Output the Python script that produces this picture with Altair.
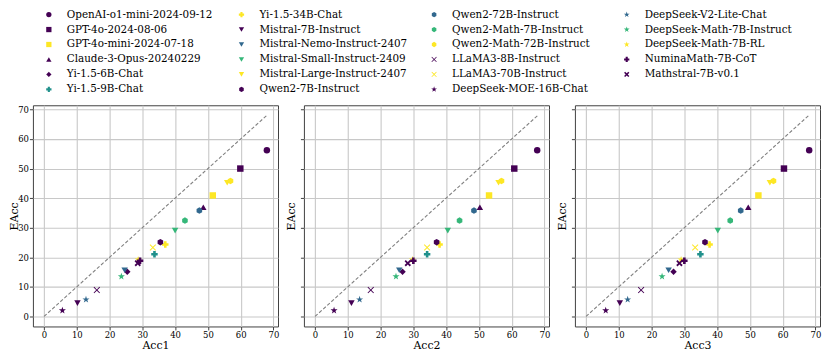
import altair as alt
import pandas as pd

models = [
    "OpenAI-o1-mini-2024-09-12", "GPT-4o-2024-08-06", "GPT-4o-mini-2024-07-18",
    "Claude-3-Opus-20240229", "Yi-1.5-6B-Chat", "Yi-1.5-9B-Chat",
    "Yi-1.5-34B-Chat", "Mistral-7B-Instruct", "Mistral-Nemo-Instruct-2407",
    "Mistral-Small-Instruct-2409", "Mistral-Large-Instruct-2407", "Qwen2-7B-Instruct",
    "Qwen2-72B-Instruct", "Qwen2-Math-7B-Instruct", "Qwen2-Math-72B-Instruct",
    "LLaMA3-8B-Instruct", "LLaMA3-70B-Instruct", "DeepSeek-MOE-16B-Chat",
    "DeepSeek-V2-Lite-Chat", "DeepSeek-Math-7B-Instruct", "DeepSeek-Math-7B-RL",
    "NuminaMath-7B-CoT", "Mathstral-7B-v0.1",
]
eacc = [56.2, 50.0, 40.9, 36.9, 15.1, 21.0, 24.3, 4.5, 15.6, 29.0, 45.2, 25.1,
        35.8, 32.4, 45.8, 8.9, 23.3, 2.0, 5.7, 13.5, 19.2, 18.8, 18.0]
acc1 = [68.0, 59.9, 51.5, 48.6, 25.4, 33.7, 37.0, 10.2, 24.6, 40.0, 55.9, 35.5,
        47.4, 43.0, 56.9, 16.1, 33.2, 5.6, 12.8, 23.6, 28.7, 29.3, 28.6]
acc2 = [67.8, 60.8, 53.1, 50.3, 26.7, 34.2, 38.0, 11.1, 25.7, 40.5, 56.0, 37.1,
        48.5, 44.1, 56.9, 17.0, 34.2, 5.8, 13.6, 24.7, 29.7, 30.0, 28.3]
acc3 = [68.1, 60.4, 52.6, 49.5, 26.7, 34.9, 37.7, 10.3, 25.2, 40.2, 56.1, 36.3,
        47.2, 44.0, 57.2, 16.8, 33.3, 6.0, 12.7, 23.2, 29.0, 30.0, 28.5]

P, B, T, G, Y = "#440154", "#31688e", "#21918c", "#35b779", "#fde725"
marker_colors = [P, P, Y, P, P, T, Y, P, B, G, Y, P, B, G, Y, P, Y, P, B, G, Y, P, P]

HEX = "M0,-1L0.866,-0.5L0.866,0.5L0,1L-0.866,0.5L-0.866,-0.5Z"
THIN_X = "M-1,-0.8L-0.8,-1L0,-0.2L0.8,-1L1,-0.8L0.2,0L1,0.8L0.8,1L0,0.2L-0.8,1L-1,0.8L-0.2,0Z"
THICK_X = "M-1,-0.6L-0.6,-1L0,-0.4L0.6,-1L1,-0.6L0.4,0L1,0.6L0.6,1L0,0.4L-0.6,1L-1,0.6L-0.4,0Z"
STAR = ("M0,-1.15L0.26,-0.36L1.09,-0.36L0.42,0.14L0.68,0.93L0,0.44"
        "L-0.68,0.93L-0.42,0.14L-1.09,-0.36L-0.26,-0.36Z")
marker_shapes = [
    "circle", "square", "square", "triangle-up", "diamond", "cross", "cross",
    "triangle-down", "triangle-down", "triangle-down", "triangle-down", HEX,
    HEX, HEX, HEX, THIN_X, THIN_X, STAR, STAR, STAR, STAR, "cross", THICK_X,
]

diag_vals = [0, 68]
tick_vals = [0, 10, 20, 30, 40, 50, 60, 70]
axis_domain = [-3.4, 71.4]

N_ROWS = 6  # legend is filled column by column, 6 entries per column

df = pd.DataFrame({"model": models, "Acc1": acc1, "Acc2": acc2, "Acc3": acc3, "EAcc": eacc})
df["lcol"] = [i // N_ROWS for i in range(len(models))]
df["lrow"] = [i % N_ROWS for i in range(len(models))]
diag_df = pd.DataFrame({"v": diag_vals})

FONT = "DejaVu Serif"

color_enc = alt.Color("model:N", scale=alt.Scale(domain=models, range=marker_colors), legend=None)
shape_enc = alt.Shape("model:N", scale=alt.Scale(domain=models, range=marker_shapes), legend=None)

# legend block
lx = alt.X("lcol:Q", scale=alt.Scale(domain=[0, 3], range=[16, 596]), axis=None)
ly = alt.Y("lrow:Q", scale=alt.Scale(domain=[0, 5], range=[6, 81]), axis=None)
leg_sym = alt.Chart(df).mark_point(filled=True, opacity=1, size=28).encode(
    x=lx, y=ly, color=color_enc, shape=shape_enc
)
leg_txt = alt.Chart(df).mark_text(
    align="left", baseline="middle", dx=18, font=FONT, fontSize=10.4, color="black"
).encode(x=lx, y=ly, text="model:N")
legend_block = alt.layer(leg_sym, leg_txt).properties(
    width=760, height=87, view=alt.ViewBackground(strokeOpacity=0)
)


def panel(col, first):
    xs = alt.Scale(domain=axis_domain, nice=False, zero=False)
    ys = alt.Scale(domain=axis_domain, nice=False, zero=False)
    xax = alt.Axis(values=tick_vals, title=col)
    yax = alt.Axis(values=tick_vals, title="EAcc", labels=first,
                   titlePadding=(-2 if first else 3))
    line = alt.Chart(diag_df).mark_line(color="#808080", strokeDash=[3.5, 2], strokeWidth=1.1).encode(
        x=alt.X("v:Q", scale=xs, axis=xax),
        y=alt.Y("v:Q", scale=ys, axis=yax),
    )
    pts = alt.Chart(df).mark_point(filled=True, opacity=1, size=42).encode(
        x=alt.X(f"{col}:Q", scale=xs, axis=xax),
        y=alt.Y("EAcc:Q", scale=ys, axis=yax),
        color=color_enc,
        shape=shape_enc,
    )
    return alt.layer(line, pts).properties(width=246, height=222)


panels = alt.hconcat(panel("Acc1", True), panel("Acc2", False), panel("Acc3", False), spacing=5)

chart = alt.vconcat(legend_block, panels, spacing=9).properties(
    padding=0
).configure_view(
    stroke="#404040", strokeWidth=1
).configure_axis(
    domain=False, tickColor="#404040", tickSize=3.5, tickWidth=1,
    labelFont=FONT, labelFontSize=8.5, labelColor="black", labelPadding=1,
    titleFont=FONT, titleFontSize=11, titleFontWeight="normal", titleColor="black",
    gridColor="#c8c8c8", gridWidth=1.1,
).configure_axisX(
    titlePadding=0
)

chart.save("out.html", embed_options={"renderer": "svg", "actions": False})
